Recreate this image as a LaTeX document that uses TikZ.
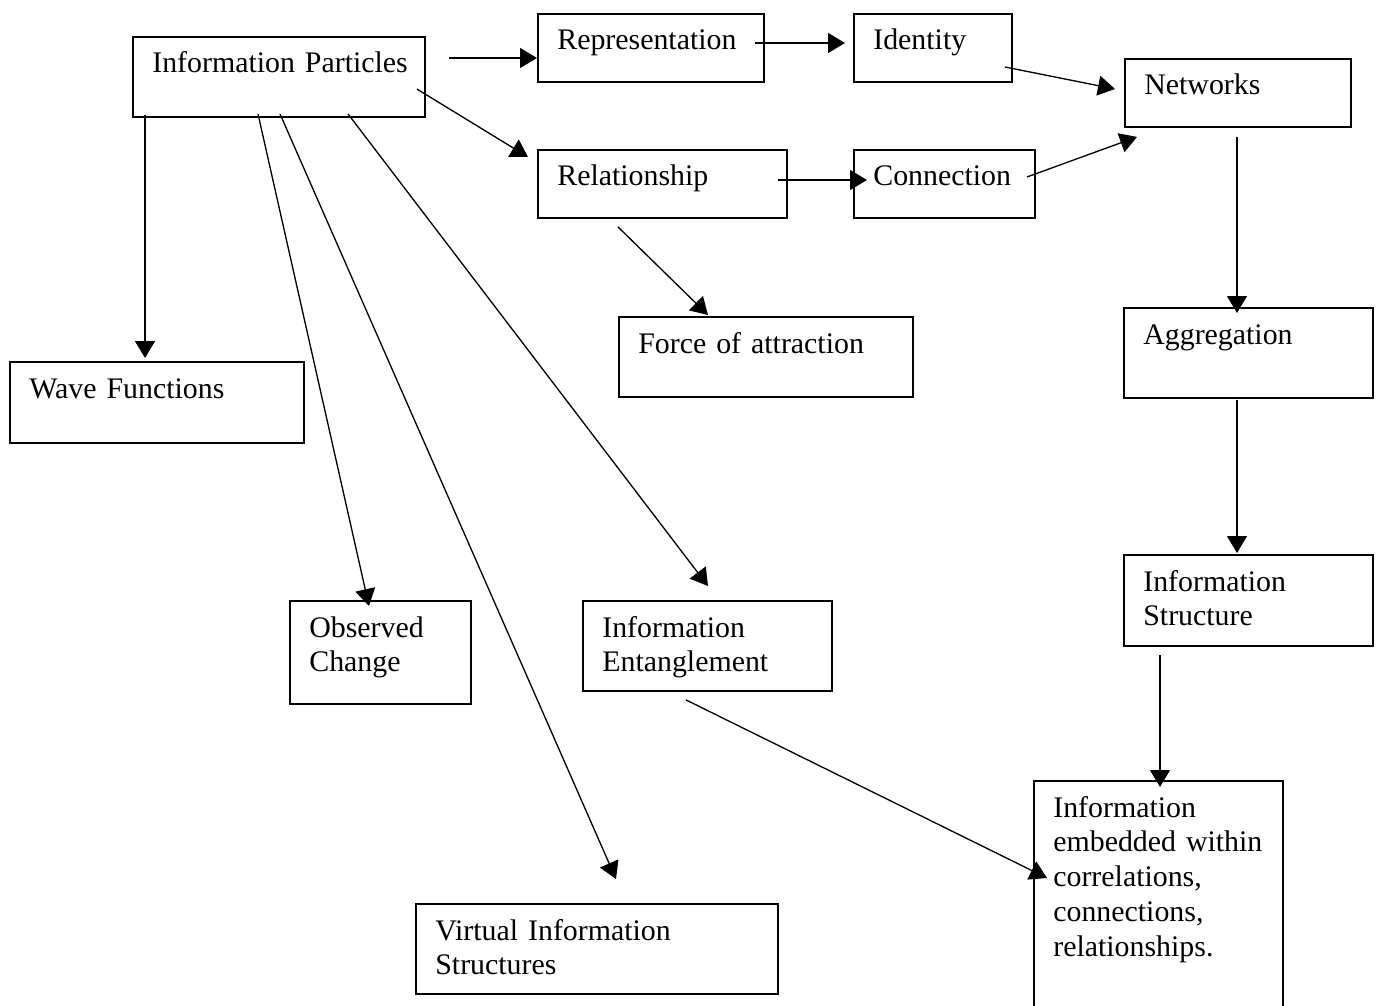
\documentclass[tikz,border=0pt]{standalone}
\usepackage{fontspec}
\setmainfont{Liberation Serif}
\usetikzlibrary{arrows.meta}

\begin{document}
\begin{tikzpicture}[x=0.02cm,y=-0.02cm,
    box/.style={draw,line width=1.1pt,anchor=north west,inner sep=0pt},
    txt/.style={anchor=base west,shift={(0.4cm,-0.74cm)},inner sep=0pt,text width=6cm,align=left,font=\fontsize{17}{19.8}\selectfont},
    arr/.style={line width=0.75pt,-{Triangle[length=0.34cm,width=0.4cm]}}]
    \useasboundingbox (0,0) rectangle (1377,1005);
    \clip (0,0) rectangle (1377,1005);
    \node[box,minimum width=5.84cm,minimum height=1.6cm,label={[txt]north west:Information Particles}] (ip) at (132,36) {};
    \node[box,minimum width=4.52cm,minimum height=1.36cm,label={[txt]north west:Representation}] (rep) at (537,13) {};
    \node[box,minimum width=3.16cm,minimum height=1.36cm,label={[txt]north west:Identity}] (idt) at (853,13) {};
    \node[box,minimum width=4.52cm,minimum height=1.36cm,label={[txt]north west:Networks}] (net) at (1124,58) {};
    \node[box,minimum width=4.98cm,minimum height=1.36cm,label={[txt]north west:Relationship}] (rel) at (537,149) {};
    \node[box,minimum width=3.62cm,minimum height=1.36cm,label={[txt]north west:Connection}] (con) at (853,149) {};
    \node[box,minimum width=5.88cm,minimum height=1.6cm,label={[txt]north west:Force of attraction}] (frc) at (618,316) {};
    \node[box,minimum width=4.98cm,minimum height=1.8cm,label={[txt]north west:Aggregation}] (agg) at (1123,307) {};
    \node[box,minimum width=5.88cm,minimum height=1.62cm,label={[txt]north west:Wave Functions}] (wav) at (9,361) {};
    \node[box,minimum width=4.98cm,minimum height=1.82cm,label={[txt]north west:Information\\Structure}] (ist) at (1123,554) {};
    \node[box,minimum width=3.62cm,minimum height=2.06cm,label={[txt]north west:Observed\\Change}] (obs) at (289,600) {};
    \node[box,minimum width=4.98cm,minimum height=1.8cm,label={[txt]north west:Information\\Entanglement}] (ent) at (582,600) {};
    \node[box,minimum width=4.98cm,minimum height=4.8cm,label={[txt]north west:Information\\embedded within\\correlations,\\connections,\\relationships.}] (emb) at (1033,780) {};
    \node[box,minimum width=7.24cm,minimum height=1.8cm,label={[txt]north west:Virtual Information\\Structures}] (vir) at (415,903) {};

    \draw[arr] ([shift={(23,22)}]ip.north east) -- ([shift={(0,45)}]rep.north west);
    \draw[arr] ([shift={(-10,30)}]rep.north east) -- ([shift={(-8,30)}]idt.north west);
    \draw[arr] ([shift={(-8,54)}]idt.north east) -- ([shift={(-9,31)}]net.north west);
    \draw[arr] ([shift={(-9,53)}]ip.north east) -- ([shift={(-9,8)}]rel.north west);
    \draw[arr] ([shift={(-10,31)}]rel.north east) -- ([shift={(14,31)}]con.north west);
    \draw[arr] ([shift={(-9,28)}]con.north east) -- ([shift={(13,9)}]net.south west);
    \draw[arr] ([shift={(81,8)}]rel.south west) -- ([shift={(90,-1)}]frc.north west);
    \draw[arr] ([shift={(113,9)}]net.south west) -- ([shift={(114,6)}]agg.north west);
    \draw[arr] ([shift={(114,1)}]agg.south west) -- ([shift={(114,-1)}]ist.north west);
    \draw[arr] ([shift={(37,8)}]ist.south west) -- ([shift={(127,7)}]emb.north west);
    \draw[arr] ([shift={(13,-3)}]ip.south west) -- ([shift={(136,-3)}]wav.north west);
    \draw[arr] ([shift={(126,-4)}]ip.south west) -- ([shift={(80,6)}]obs.north west);
    \draw[arr] ([shift={(148,-4)}]ip.south west) -- ([shift={(201,-24)}]vir.north west);
    \draw[arr] ([shift={(216,-4)}]ip.south west) -- ([shift={(126,-14)}]ent.north west);
    \draw[arr] ([shift={(104,8)}]ent.south west) -- ([shift={(14,98)}]emb.north west);
\end{tikzpicture}
\end{document}
